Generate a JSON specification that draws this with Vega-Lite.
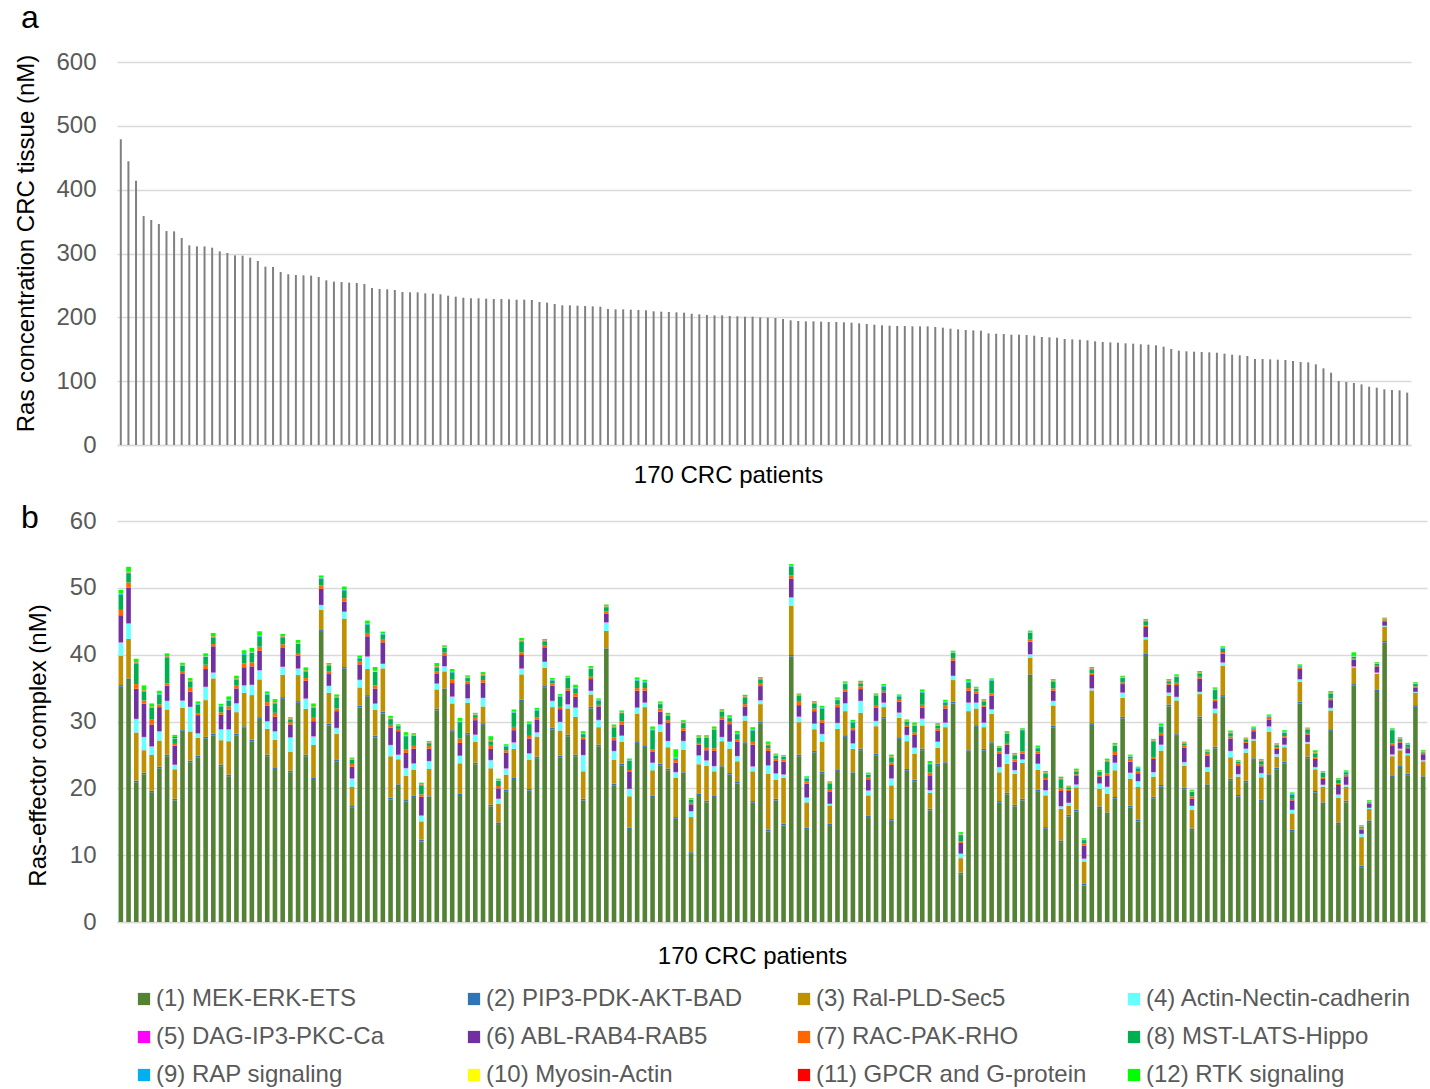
{
"$schema":"https://vega.github.io/schema/vega-lite/v6.json",
"background":"white",
"padding":{"left":13,"top":2,"right":2,"bottom":2},
"config":{"font":"Liberation Sans","view":{"stroke":null},
"axis":{"labelFontSize":24,"labelColor":"#595959","titleFontSize":24,"titleFontWeight":"normal","titleColor":"#000000","gridColor":"#D9D9D9","gridWidth":1.5,"tickSize":0,"ticks":false,"labelFont":"Liberation Sans","titleFont":"Liberation Sans"},
"title":{"fontSize":32,"fontWeight":"normal","color":"#000000","anchor":"start","frame":"group","offset":0,"baseline":"alphabetic","font":"Liberation Sans"}},
"datasets":{
"ras":[{"p":1,"v":478.9},{"p":2,"v":444.4},{"p":3,"v":414.1},{"p":4,"v":358.7},{"p":5,"v":352.5},{"p":6,"v":346.2},{"p":7,"v":335.2},{"p":8,"v":334.7},{"p":9,"v":324.3},{"p":10,"v":312.8},{"p":11,"v":311.2},{"p":12,"v":311.2},{"p":13,"v":309.1},{"p":14,"v":303.4},{"p":15,"v":300.8},{"p":16,"v":297.1},{"p":17,"v":296.6},{"p":18,"v":293.5},{"p":19,"v":288.3},{"p":20,"v":279.4},{"p":21,"v":278.9},{"p":22,"v":271.0},{"p":23,"v":267.4},{"p":24,"v":266.3},{"p":25,"v":265.8},{"p":26,"v":265.3},{"p":27,"v":263.2},{"p":28,"v":258.0},{"p":29,"v":255.9},{"p":30,"v":255.4},{"p":31,"v":254.3},{"p":32,"v":253.8},{"p":33,"v":252.2},{"p":34,"v":246.0},{"p":35,"v":244.4},{"p":36,"v":243.9},{"p":37,"v":242.8},{"p":38,"v":239.7},{"p":39,"v":239.2},{"p":40,"v":239.2},{"p":41,"v":237.6},{"p":42,"v":237.1},{"p":43,"v":236.0},{"p":44,"v":233.9},{"p":45,"v":232.4},{"p":46,"v":230.8},{"p":47,"v":229.8},{"p":48,"v":229.8},{"p":49,"v":229.2},{"p":50,"v":228.7},{"p":51,"v":228.7},{"p":52,"v":228.2},{"p":53,"v":227.7},{"p":54,"v":227.7},{"p":55,"v":227.2},{"p":56,"v":224.0},{"p":57,"v":223.0},{"p":58,"v":220.9},{"p":59,"v":218.8},{"p":60,"v":218.8},{"p":61,"v":218.3},{"p":62,"v":217.8},{"p":63,"v":217.2},{"p":64,"v":216.7},{"p":65,"v":213.1},{"p":66,"v":212.5},{"p":67,"v":212.5},{"p":68,"v":212.0},{"p":69,"v":211.5},{"p":70,"v":211.0},{"p":71,"v":209.4},{"p":72,"v":208.9},{"p":73,"v":208.4},{"p":74,"v":207.8},{"p":75,"v":207.3},{"p":76,"v":205.7},{"p":77,"v":204.7},{"p":78,"v":203.7},{"p":79,"v":203.1},{"p":80,"v":203.1},{"p":81,"v":202.1},{"p":82,"v":201.6},{"p":83,"v":201.0},{"p":84,"v":201.0},{"p":85,"v":200.0},{"p":86,"v":199.5},{"p":87,"v":199.0},{"p":88,"v":197.4},{"p":89,"v":195.3},{"p":90,"v":194.3},{"p":91,"v":193.7},{"p":92,"v":193.7},{"p":93,"v":193.2},{"p":94,"v":192.7},{"p":95,"v":192.7},{"p":96,"v":192.2},{"p":97,"v":191.6},{"p":98,"v":190.6},{"p":99,"v":189.6},{"p":100,"v":188.5},{"p":101,"v":187.5},{"p":102,"v":186.9},{"p":103,"v":186.4},{"p":104,"v":186.4},{"p":105,"v":185.9},{"p":106,"v":185.9},{"p":107,"v":185.9},{"p":108,"v":184.9},{"p":109,"v":183.8},{"p":110,"v":182.2},{"p":111,"v":181.2},{"p":112,"v":180.2},{"p":113,"v":179.6},{"p":114,"v":179.1},{"p":115,"v":174.9},{"p":116,"v":174.4},{"p":117,"v":173.9},{"p":118,"v":172.8},{"p":119,"v":172.8},{"p":120,"v":172.3},{"p":121,"v":171.3},{"p":122,"v":169.2},{"p":123,"v":168.7},{"p":124,"v":168.1},{"p":125,"v":166.1},{"p":126,"v":165.5},{"p":127,"v":165.0},{"p":128,"v":164.0},{"p":129,"v":162.4},{"p":130,"v":161.4},{"p":131,"v":160.8},{"p":132,"v":160.3},{"p":133,"v":159.3},{"p":134,"v":158.7},{"p":135,"v":157.7},{"p":136,"v":157.2},{"p":137,"v":156.1},{"p":138,"v":154.0},{"p":139,"v":150.4},{"p":140,"v":147.8},{"p":141,"v":146.7},{"p":142,"v":146.2},{"p":143,"v":145.7},{"p":144,"v":145.2},{"p":145,"v":144.6},{"p":146,"v":143.1},{"p":147,"v":141.5},{"p":148,"v":140.5},{"p":149,"v":139.4},{"p":150,"v":134.7},{"p":151,"v":134.7},{"p":152,"v":134.2},{"p":153,"v":133.7},{"p":154,"v":133.2},{"p":155,"v":131.6},{"p":156,"v":130.0},{"p":157,"v":129.5},{"p":158,"v":126.4},{"p":159,"v":120.1},{"p":160,"v":113.3},{"p":161,"v":100.3},{"p":162,"v":98.7},{"p":163,"v":97.1},{"p":164,"v":95.0},{"p":165,"v":91.4},{"p":166,"v":89.8},{"p":167,"v":87.2},{"p":168,"v":86.2},{"p":169,"v":85.6},{"p":170,"v":82.0}],
"rec":[
{"p":1,"a":35.2,"b":0.25,"c":4.4,"d":1.95,"e":0.05,"f":4.05,"g":0.8,"h":2.3,"i":0.1,"j":0.05,"k":0.05,"l":0.5},
{"p":2,"a":36.2,"b":0.25,"c":5.9,"d":2.3,"e":0.05,"f":5.35,"g":0.75,"h":1.4,"i":0.1,"j":0.05,"k":0.05,"l":0.75},
{"p":3,"a":20.9,"b":0.25,"c":7.2,"d":2.0,"e":0.05,"f":4.5,"g":0.7,"h":3.1,"i":0.1,"j":0.05,"k":0.05,"l":0.5},
{"p":4,"a":22.1,"b":0.25,"c":3.35,"d":1.95,"e":0.05,"f":4.95,"g":0.5,"h":1.35,"i":0.1,"j":0.05,"k":0.05,"l":0.7},
{"p":5,"a":19.4,"b":0.25,"c":5.35,"d":1.25,"e":0.05,"f":3.25,"g":0.8,"h":1.7,"i":0.1,"j":0.05,"k":0.05,"l":0.45},
{"p":6,"a":23.0,"b":0.25,"c":3.9,"d":1.35,"e":0.05,"f":3.6,"g":0.4,"h":1.45,"i":0.1,"j":0.05,"k":0.05,"l":0.4},
{"p":7,"a":24.8,"b":0.25,"c":6.75,"d":1.25,"e":0.05,"f":2.25,"g":0.35,"h":3.9,"i":0.1,"j":0.05,"k":0.05,"l":0.4},
{"p":8,"a":18.2,"b":0.25,"c":4.4,"d":0.65,"e":0.05,"f":2.85,"g":0.25,"h":0.75,"i":0.1,"j":0.05,"k":0.15,"l":0.3},
{"p":9,"a":28.6,"b":0.25,"c":3.2,"d":1.05,"e":0.05,"f":3.95,"g":0.45,"h":0.75,"i":0.1,"j":0.05,"k":0.05,"l":0.3},
{"p":10,"a":23.9,"b":0.25,"c":4.35,"d":3.65,"e":0.05,"f":2.25,"g":0.6,"h":0.9,"i":0.1,"j":0.05,"k":0.05,"l":0.35},
{"p":11,"a":24.65,"b":0.25,"c":2.65,"d":0.65,"e":0.05,"f":2.7,"g":0.3,"h":1.25,"i":0.1,"j":0.05,"k":0.05,"l":0.3},
{"p":12,"a":27.45,"b":0.25,"c":5.5,"d":1.95,"e":0.05,"f":2.65,"g":0.65,"h":1.15,"i":0.1,"j":0.05,"k":0.05,"l":0.35},
{"p":13,"a":27.95,"b":0.25,"c":8.25,"d":0.85,"e":0.05,"f":3.9,"g":0.35,"h":0.95,"i":0.1,"j":0.05,"k":0.05,"l":0.5},
{"p":14,"a":23.3,"b":0.25,"c":3.65,"d":1.6,"e":0.05,"f":2.15,"g":0.35,"h":0.9,"i":0.1,"j":0.05,"k":0.05,"l":0.2},
{"p":15,"a":21.8,"b":0.25,"c":5.0,"d":1.75,"e":0.05,"f":2.9,"g":0.5,"h":0.85,"i":0.1,"j":0.05,"k":0.05,"l":0.45},
{"p":16,"a":27.95,"b":0.25,"c":3.2,"d":1.3,"e":0.05,"f":2.2,"g":0.4,"h":0.9,"i":0.1,"j":0.05,"k":0.05,"l":0.4},
{"p":17,"a":29.05,"b":0.25,"c":5.0,"d":1.1,"e":0.05,"f":2.65,"g":0.6,"h":1.3,"i":0.1,"j":0.05,"k":0.05,"l":0.45},
{"p":18,"a":27.05,"b":0.25,"c":6.65,"d":1.5,"e":0.05,"f":2.75,"g":0.6,"h":1.4,"i":0.1,"j":0.05,"k":0.05,"l":0.55},
{"p":19,"a":30.4,"b":0.25,"c":5.65,"d":1.35,"e":0.05,"f":2.9,"g":0.6,"h":1.5,"i":0.1,"j":0.05,"k":0.05,"l":0.6},
{"p":20,"a":24.8,"b":0.25,"c":3.85,"d":1.1,"e":0.05,"f":2.35,"g":0.5,"h":1.1,"i":0.1,"j":0.05,"k":0.05,"l":0.3},
{"p":21,"a":22.9,"b":0.25,"c":4.1,"d":1.25,"e":0.05,"f":2.15,"g":0.6,"h":1.4,"i":0.1,"j":0.05,"k":0.05,"l":0.45},
{"p":22,"a":33.4,"b":0.25,"c":3.35,"d":1.15,"e":0.05,"f":2.8,"g":0.55,"h":1.05,"i":0.1,"j":0.05,"k":0.05,"l":0.3},
{"p":23,"a":22.4,"b":0.25,"c":2.85,"d":2.1,"e":0.05,"f":1.9,"g":0.35,"h":0.4,"i":0.1,"j":0.05,"k":0.05,"l":0.15},
{"p":24,"a":32.8,"b":0.25,"c":3.9,"d":0.95,"e":0.05,"f":1.9,"g":0.4,"h":1.35,"i":0.1,"j":0.05,"k":0.05,"l":0.4},
{"p":25,"a":24.8,"b":0.25,"c":6.85,"d":1.5,"e":0.05,"f":2.65,"g":0.4,"h":0.95,"i":0.1,"j":0.05,"k":0.05,"l":0.45},
{"p":26,"a":21.4,"b":0.25,"c":4.85,"d":1.25,"e":0.05,"f":2.25,"g":0.5,"h":1.5,"i":0.1,"j":0.05,"k":0.05,"l":0.45},
{"p":27,"a":43.55,"b":0.25,"c":2.9,"d":0.7,"e":0.05,"f":2.4,"g":0.5,"h":1.0,"i":0.1,"j":0.05,"k":0.05,"l":0.3},
{"p":28,"a":29.45,"b":0.25,"c":4.6,"d":1.0,"e":0.05,"f":1.75,"g":0.35,"h":0.9,"i":0.1,"j":0.05,"k":0.05,"l":0.2},
{"p":29,"a":24.0,"b":0.25,"c":3.9,"d":0.85,"e":0.05,"f":2.5,"g":0.4,"h":1.6,"i":0.1,"j":0.05,"k":0.05,"l":0.3},
{"p":30,"a":37.9,"b":0.25,"c":7.25,"d":1.0,"e":0.05,"f":1.5,"g":0.5,"h":1.15,"i":0.1,"j":0.05,"k":0.05,"l":0.4},
{"p":31,"a":17.1,"b":0.25,"c":2.85,"d":1.25,"e":0.05,"f":1.75,"g":0.4,"h":0.6,"i":0.1,"j":0.05,"k":0.05,"l":0.15},
{"p":32,"a":32.15,"b":0.25,"c":2.7,"d":1.1,"e":0.05,"f":2.3,"g":0.4,"h":0.5,"i":0.1,"j":0.05,"k":0.05,"l":0.2},
{"p":33,"a":33.7,"b":0.25,"c":3.9,"d":1.85,"e":0.05,"f":3.0,"g":0.5,"h":1.25,"i":0.1,"j":0.05,"k":0.05,"l":0.4},
{"p":34,"a":27.6,"b":0.25,"c":3.9,"d":0.9,"e":0.05,"f":2.25,"g":0.45,"h":2.0,"i":0.1,"j":0.05,"k":0.05,"l":0.55},
{"p":35,"a":31.2,"b":0.25,"c":6.5,"d":0.65,"e":0.05,"f":3.2,"g":0.5,"h":0.65,"i":0.1,"j":0.05,"k":0.05,"l":0.25},
{"p":36,"a":18.35,"b":0.25,"c":6.2,"d":1.65,"e":0.05,"f":2.6,"g":0.4,"h":0.85,"i":0.1,"j":0.05,"k":0.05,"l":0.3},
{"p":37,"a":20.35,"b":0.25,"c":3.75,"d":0.65,"e":0.05,"f":3.5,"g":0.35,"h":0.4,"i":0.1,"j":0.05,"k":0.05,"l":0.1},
{"p":38,"a":18.0,"b":0.25,"c":3.65,"d":1.1,"e":0.05,"f":2.25,"g":0.5,"h":2.0,"i":0.1,"j":0.05,"k":0.05,"l":0.4},
{"p":39,"a":18.7,"b":0.25,"c":3.85,"d":0.9,"e":0.05,"f":2.2,"g":0.4,"h":1.5,"i":0.1,"j":0.05,"k":0.05,"l":0.2},
{"p":40,"a":12.05,"b":0.25,"c":2.75,"d":0.85,"e":0.05,"f":2.8,"g":0.35,"h":1.35,"i":0.1,"j":0.05,"k":0.05,"l":0.2},
{"p":41,"a":18.55,"b":0.25,"c":4.1,"d":1.15,"e":0.05,"f":1.85,"g":0.4,"h":0.4,"i":0.1,"j":0.05,"k":0.05,"l":0.15},
{"p":42,"a":31.7,"b":0.25,"c":2.85,"d":0.85,"e":0.05,"f":1.5,"g":0.25,"h":0.65,"i":0.1,"j":0.05,"k":0.05,"l":0.45},
{"p":43,"a":34.7,"b":0.25,"c":2.55,"d":0.75,"e":0.05,"f":1.6,"g":0.4,"h":0.7,"i":0.1,"j":0.05,"k":0.05,"l":0.2},
{"p":44,"a":28.45,"b":0.25,"c":4.0,"d":1.0,"e":0.05,"f":2.0,"g":0.6,"h":1.0,"i":0.1,"j":0.05,"k":0.05,"l":0.3},
{"p":45,"a":19.0,"b":0.25,"c":4.5,"d":1.1,"e":0.05,"f":1.9,"g":0.65,"h":2.45,"i":0.1,"j":0.05,"k":0.05,"l":0.45},
{"p":46,"a":28.05,"b":0.25,"c":4.5,"d":0.65,"e":0.05,"f":2.1,"g":0.4,"h":0.5,"i":0.1,"j":0.05,"k":0.05,"l":0.2},
{"p":47,"a":23.6,"b":0.25,"c":3.15,"d":1.0,"e":0.05,"f":2.15,"g":0.35,"h":0.4,"i":0.1,"j":0.05,"k":0.05,"l":0.15},
{"p":48,"a":29.5,"b":0.25,"c":2.5,"d":1.25,"e":0.05,"f":2.25,"g":0.4,"h":0.7,"i":0.1,"j":0.05,"k":0.05,"l":0.3},
{"p":49,"a":17.3,"b":0.25,"c":5.45,"d":1.2,"e":0.05,"f":1.65,"g":0.6,"h":0.5,"i":0.1,"j":0.05,"k":0.05,"l":0.6},
{"p":50,"a":14.65,"b":0.25,"c":2.8,"d":0.7,"e":0.05,"f":1.55,"g":0.35,"h":0.75,"i":0.1,"j":0.05,"k":0.05,"l":0.15},
{"p":51,"a":19.55,"b":0.25,"c":2.25,"d":0.9,"e":0.05,"f":2.35,"g":0.35,"h":0.55,"i":0.1,"j":0.05,"k":0.05,"l":0.15},
{"p":52,"a":21.4,"b":0.25,"c":4.25,"d":0.95,"e":0.05,"f":1.8,"g":0.5,"h":2.1,"i":0.1,"j":0.05,"k":0.05,"l":0.3},
{"p":53,"a":33.05,"b":0.25,"c":3.75,"d":0.85,"e":0.05,"f":2.0,"g":0.4,"h":1.6,"i":0.1,"j":0.05,"k":0.05,"l":0.35},
{"p":54,"a":19.65,"b":0.25,"c":4.4,"d":0.9,"e":0.05,"f":2.2,"g":0.4,"h":1.75,"i":0.1,"j":0.05,"k":0.05,"l":0.2},
{"p":55,"a":24.5,"b":0.25,"c":3.0,"d":0.6,"e":0.05,"f":1.9,"g":0.3,"h":1.05,"i":0.1,"j":0.05,"k":0.05,"l":0.2},
{"p":56,"a":35.05,"b":0.25,"c":2.75,"d":0.85,"e":0.05,"f":2.15,"g":0.25,"h":0.65,"i":0.1,"j":0.05,"k":0.05,"l":0.15},
{"p":57,"a":28.8,"b":0.25,"c":3.1,"d":0.9,"e":0.05,"f":2.25,"g":0.35,"h":0.4,"i":0.1,"j":0.05,"k":0.05,"l":0.2},
{"p":58,"a":24.65,"b":0.25,"c":3.75,"d":1.25,"e":0.05,"f":1.9,"g":0.35,"h":1.5,"i":0.1,"j":0.05,"k":0.05,"l":0.2},
{"p":59,"a":27.8,"b":0.25,"c":3.9,"d":0.6,"e":0.05,"f":2.0,"g":0.35,"h":1.55,"i":0.1,"j":0.05,"k":0.05,"l":0.15},
{"p":60,"a":24.8,"b":0.25,"c":5.65,"d":1.35,"e":0.05,"f":1.6,"g":0.45,"h":0.8,"i":0.1,"j":0.05,"k":0.05,"l":0.35},
{"p":61,"a":18.2,"b":0.25,"c":4.1,"d":2.4,"e":0.05,"f":2.35,"g":0.25,"h":0.5,"i":0.1,"j":0.05,"k":0.05,"l":0.25},
{"p":62,"a":31.95,"b":0.25,"c":1.85,"d":0.5,"e":0.05,"f":1.75,"g":0.35,"h":1.15,"i":0.1,"j":0.05,"k":0.05,"l":0.25},
{"p":63,"a":26.3,"b":0.25,"c":2.6,"d":1.05,"e":0.05,"f":2.0,"g":0.25,"h":0.6,"i":0.1,"j":0.05,"k":0.05,"l":0.15},
{"p":64,"a":40.7,"b":0.25,"c":2.6,"d":1.25,"e":0.05,"f":1.25,"g":0.4,"h":0.6,"i":0.1,"j":0.05,"k":0.05,"l":0.2},
{"p":65,"a":20.45,"b":0.25,"c":3.6,"d":1.25,"e":0.05,"f":1.6,"g":0.4,"h":1.5,"i":0.1,"j":0.05,"k":0.05,"l":0.25},
{"p":66,"a":23.45,"b":0.25,"c":3.25,"d":0.9,"e":0.05,"f":1.65,"g":0.45,"h":1.25,"i":0.1,"j":0.05,"k":0.05,"l":0.2},
{"p":67,"a":13.9,"b":0.25,"c":4.65,"d":1.1,"e":0.05,"f":2.5,"g":0.3,"h":1.35,"i":0.1,"j":0.05,"k":0.05,"l":0.15},
{"p":68,"a":26.8,"b":0.25,"c":4.15,"d":0.85,"e":0.05,"f":2.5,"g":0.4,"h":1.1,"i":0.1,"j":0.05,"k":0.05,"l":0.3},
{"p":69,"a":26.2,"b":0.25,"c":5.7,"d":0.65,"e":0.05,"f":1.75,"g":0.4,"h":0.85,"i":0.1,"j":0.05,"k":0.05,"l":0.2},
{"p":70,"a":18.7,"b":0.25,"c":3.75,"d":1.1,"e":0.05,"f":1.6,"g":0.4,"h":2.85,"i":0.1,"j":0.05,"k":0.05,"l":0.35},
{"p":71,"a":23.45,"b":0.25,"c":4.75,"d":1.1,"e":0.05,"f":1.85,"g":0.5,"h":0.65,"i":0.1,"j":0.05,"k":0.05,"l":0.2},
{"p":72,"a":22.7,"b":0.25,"c":3.2,"d":0.9,"e":0.05,"f":2.75,"g":0.35,"h":0.65,"i":0.1,"j":0.05,"k":0.05,"l":0.25},
{"p":73,"a":15.45,"b":0.25,"c":5.85,"d":0.85,"e":0.05,"f":1.4,"g":0.4,"h":0.2,"i":0.1,"j":0.05,"k":0.05,"l":1.2},
{"p":74,"a":22.15,"b":0.25,"c":3.4,"d":1.25,"e":0.05,"f":1.5,"g":0.4,"h":0.75,"i":0.1,"j":0.05,"k":0.05,"l":0.25},
{"p":75,"a":10.2,"b":0.25,"c":5.25,"d":0.85,"e":0.05,"f":1.0,"g":0.25,"h":0.4,"i":0.1,"j":0.05,"k":0.05,"l":0.1},
{"p":76,"a":19.0,"b":0.25,"c":4.35,"d":1.3,"e":0.05,"f":1.6,"g":0.25,"h":0.75,"i":0.1,"j":0.05,"k":0.05,"l":0.2},
{"p":77,"a":17.9,"b":0.25,"c":5.2,"d":0.8,"e":0.05,"f":1.5,"g":0.35,"h":1.5,"i":0.1,"j":0.05,"k":0.05,"l":0.2},
{"p":78,"a":18.7,"b":0.25,"c":3.6,"d":0.75,"e":0.05,"f":2.25,"g":0.4,"h":2.75,"i":0.1,"j":0.05,"k":0.05,"l":0.3},
{"p":79,"a":23.05,"b":0.25,"c":3.75,"d":0.6,"e":0.05,"f":2.55,"g":0.45,"h":0.75,"i":0.1,"j":0.05,"k":0.05,"l":0.2},
{"p":80,"a":22.05,"b":0.25,"c":3.65,"d":1.0,"e":0.05,"f":2.6,"g":0.35,"h":0.55,"i":0.1,"j":0.05,"k":0.05,"l":0.25},
{"p":81,"a":20.7,"b":0.25,"c":3.1,"d":0.75,"e":0.05,"f":2.1,"g":0.4,"h":0.75,"i":0.1,"j":0.05,"k":0.05,"l":0.3},
{"p":82,"a":26.65,"b":0.25,"c":3.25,"d":0.65,"e":0.05,"f":1.4,"g":0.35,"h":1.0,"i":0.1,"j":0.05,"k":0.05,"l":0.2},
{"p":83,"a":17.85,"b":0.25,"c":4.45,"d":0.7,"e":0.05,"f":3.25,"g":0.4,"h":1.7,"i":0.1,"j":0.05,"k":0.05,"l":0.3},
{"p":84,"a":29.75,"b":0.25,"c":2.6,"d":0.55,"e":0.05,"f":2.1,"g":0.35,"h":0.65,"i":0.1,"j":0.05,"k":0.05,"l":0.15},
{"p":85,"a":13.55,"b":0.25,"c":8.4,"d":1.2,"e":0.05,"f":2.15,"g":0.4,"h":0.45,"i":0.1,"j":0.05,"k":0.05,"l":0.35},
{"p":86,"a":18.2,"b":0.25,"c":2.85,"d":0.9,"e":0.05,"f":1.85,"g":0.35,"h":0.4,"i":0.1,"j":0.05,"k":0.05,"l":0.15},
{"p":87,"a":14.45,"b":0.25,"c":6.85,"d":0.5,"e":0.05,"f":1.9,"g":0.35,"h":0.35,"i":0.1,"j":0.05,"k":0.05,"l":0.1},
{"p":88,"a":39.7,"b":0.25,"c":7.35,"d":1.25,"e":0.05,"f":2.8,"g":0.45,"h":1.3,"i":0.1,"j":0.05,"k":0.05,"l":0.2},
{"p":89,"a":24.8,"b":0.25,"c":4.85,"d":0.8,"e":0.05,"f":1.7,"g":0.5,"h":0.9,"i":0.1,"j":0.05,"k":0.05,"l":0.15},
{"p":90,"a":13.9,"b":0.25,"c":3.75,"d":0.7,"e":0.05,"f":2.05,"g":0.35,"h":0.4,"i":0.1,"j":0.05,"k":0.05,"l":0.15},
{"p":91,"a":25.35,"b":0.25,"c":3.25,"d":0.8,"e":0.05,"f":1.85,"g":0.4,"h":0.75,"i":0.1,"j":0.05,"k":0.05,"l":0.15},
{"p":92,"a":22.25,"b":0.25,"c":4.5,"d":1.1,"e":0.05,"f":1.65,"g":0.4,"h":1.75,"i":0.1,"j":0.05,"k":0.05,"l":0.2},
{"p":93,"a":14.5,"b":0.25,"c":2.7,"d":0.2,"e":0.05,"f":1.85,"g":0.35,"h":0.8,"i":0.1,"j":0.05,"k":0.05,"l":0.15},
{"p":94,"a":22.6,"b":0.25,"c":6.05,"d":0.85,"e":0.05,"f":2.35,"g":0.4,"h":0.65,"i":0.1,"j":0.05,"k":0.05,"l":0.2},
{"p":95,"a":27.7,"b":0.25,"c":3.6,"d":1.15,"e":0.05,"f":1.75,"g":0.35,"h":0.75,"i":0.1,"j":0.05,"k":0.05,"l":0.2},
{"p":96,"a":22.15,"b":0.25,"c":3.5,"d":0.8,"e":0.05,"f":1.95,"g":0.3,"h":0.85,"i":0.1,"j":0.05,"k":0.05,"l":0.2},
{"p":97,"a":25.7,"b":0.25,"c":5.35,"d":1.75,"e":0.05,"f":1.75,"g":0.4,"h":0.45,"i":0.1,"j":0.05,"k":0.05,"l":0.2},
{"p":98,"a":15.7,"b":0.25,"c":3.0,"d":0.7,"e":0.05,"f":1.65,"g":0.25,"h":0.4,"i":0.1,"j":0.05,"k":0.05,"l":0.15},
{"p":99,"a":24.95,"b":0.25,"c":4.1,"d":0.75,"e":0.05,"f":2.0,"g":0.25,"h":1.5,"i":0.1,"j":0.05,"k":0.05,"l":0.15},
{"p":100,"a":30.45,"b":0.25,"c":1.45,"d":0.65,"e":0.05,"f":1.5,"g":0.25,"h":0.6,"i":0.1,"j":0.05,"k":0.05,"l":0.2},
{"p":101,"a":15.15,"b":0.25,"c":5.05,"d":1.0,"e":0.05,"f":2.0,"g":0.35,"h":0.75,"i":0.1,"j":0.05,"k":0.05,"l":0.25},
{"p":102,"a":27.4,"b":0.25,"c":2.9,"d":0.75,"e":0.05,"f":1.6,"g":0.3,"h":0.5,"i":0.1,"j":0.05,"k":0.05,"l":0.1},
{"p":103,"a":22.65,"b":0.25,"c":4.15,"d":0.9,"e":0.05,"f":1.2,"g":0.3,"h":0.45,"i":0.1,"j":0.05,"k":0.05,"l":0.15},
{"p":104,"a":21.05,"b":0.25,"c":3.9,"d":0.85,"e":0.05,"f":1.9,"g":0.35,"h":1.0,"i":0.1,"j":0.05,"k":0.05,"l":0.3},
{"p":105,"a":25.7,"b":0.25,"c":3.45,"d":1.0,"e":0.05,"f":1.65,"g":0.4,"h":1.85,"i":0.1,"j":0.05,"k":0.05,"l":0.25},
{"p":106,"a":16.7,"b":0.25,"c":2.35,"d":0.4,"e":0.05,"f":2.2,"g":0.4,"h":1.25,"i":0.1,"j":0.05,"k":0.05,"l":0.3},
{"p":107,"a":23.45,"b":0.25,"c":2.35,"d":0.9,"e":0.05,"f":1.6,"g":0.35,"h":0.4,"i":0.1,"j":0.05,"k":0.05,"l":0.2},
{"p":108,"a":23.65,"b":0.25,"c":5.25,"d":0.65,"e":0.05,"f":2.1,"g":0.5,"h":0.4,"i":0.1,"j":0.05,"k":0.05,"l":0.2},
{"p":109,"a":32.7,"b":0.25,"c":3.25,"d":0.6,"e":0.05,"f":2.25,"g":0.35,"h":0.8,"i":0.1,"j":0.05,"k":0.05,"l":0.15},
{"p":110,"a":7.15,"b":0.25,"c":2.15,"d":0.65,"e":0.05,"f":1.6,"g":0.25,"h":0.9,"i":0.1,"j":0.05,"k":0.05,"l":0.25},
{"p":111,"a":25.45,"b":0.25,"c":5.85,"d":1.25,"e":0.05,"f":1.75,"g":0.4,"h":0.85,"i":0.1,"j":0.05,"k":0.05,"l":0.3},
{"p":112,"a":29.2,"b":0.25,"c":2.5,"d":0.85,"e":0.05,"f":1.35,"g":0.3,"h":0.35,"i":0.1,"j":0.05,"k":0.05,"l":0.15},
{"p":113,"a":25.65,"b":0.25,"c":3.25,"d":0.65,"e":0.05,"f":2.35,"g":0.25,"h":0.55,"i":0.1,"j":0.05,"k":0.05,"l":0.15},
{"p":114,"a":26.65,"b":0.25,"c":4.25,"d":0.65,"e":0.05,"f":2.0,"g":0.35,"h":1.9,"i":0.1,"j":0.05,"k":0.05,"l":0.15},
{"p":115,"a":17.85,"b":0.25,"c":4.3,"d":0.75,"e":0.05,"f":1.95,"g":0.4,"h":0.5,"i":0.1,"j":0.05,"k":0.05,"l":0.1},
{"p":116,"a":19.1,"b":0.25,"c":4.3,"d":1.45,"e":0.05,"f":1.4,"g":0.25,"h":1.35,"i":0.1,"j":0.05,"k":0.05,"l":0.2},
{"p":117,"a":17.3,"b":0.25,"c":4.6,"d":0.55,"e":0.05,"f":1.25,"g":0.35,"h":0.6,"i":0.1,"j":0.05,"k":0.05,"l":0.15},
{"p":118,"a":18.2,"b":0.25,"c":5.35,"d":0.5,"e":0.05,"f":0.85,"g":0.3,"h":3.2,"i":0.1,"j":0.05,"k":0.05,"l":0.1},
{"p":119,"a":36.8,"b":0.25,"c":2.5,"d":0.5,"e":0.05,"f":1.85,"g":0.3,"h":1.0,"i":0.1,"j":0.05,"k":0.05,"l":0.15},
{"p":120,"a":19.55,"b":0.25,"c":3.0,"d":0.85,"e":0.05,"f":1.5,"g":0.3,"h":0.5,"i":0.1,"j":0.05,"k":0.05,"l":0.2},
{"p":121,"a":13.95,"b":0.25,"c":4.75,"d":0.75,"e":0.05,"f":1.5,"g":0.3,"h":0.65,"i":0.1,"j":0.05,"k":0.05,"l":0.2},
{"p":122,"a":29.15,"b":0.25,"c":3.0,"d":0.65,"e":0.05,"f":1.5,"g":0.35,"h":1.0,"i":0.1,"j":0.05,"k":0.05,"l":0.2},
{"p":123,"a":11.95,"b":0.25,"c":4.75,"d":0.35,"e":0.05,"f":2.25,"g":0.4,"h":1.35,"i":0.1,"j":0.05,"k":0.05,"l":0.2},
{"p":124,"a":15.8,"b":0.25,"c":1.35,"d":0.4,"e":0.05,"f":1.75,"g":0.25,"h":0.25,"i":0.1,"j":0.05,"k":0.05,"l":0.1},
{"p":125,"a":16.55,"b":0.25,"c":3.35,"d":0.4,"e":0.05,"f":1.25,"g":0.25,"h":0.4,"i":0.1,"j":0.05,"k":0.05,"l":0.25},
{"p":126,"a":5.45,"b":0.25,"c":3.35,"d":0.4,"e":0.05,"f":1.95,"g":0.3,"h":0.5,"i":0.1,"j":0.05,"k":0.05,"l":0.1},
{"p":127,"a":29.5,"b":0.25,"c":4.9,"d":0.3,"e":0.05,"f":1.95,"g":0.25,"h":0.6,"i":0.1,"j":0.05,"k":0.05,"l":0.15},
{"p":128,"a":17.05,"b":0.25,"c":2.65,"d":0.75,"e":0.05,"f":1.0,"g":0.25,"h":0.45,"i":0.1,"j":0.05,"k":0.05,"l":0.1},
{"p":129,"a":16.15,"b":0.25,"c":2.75,"d":1.05,"e":0.05,"f":1.6,"g":0.4,"h":1.75,"i":0.1,"j":0.05,"k":0.05,"l":0.25},
{"p":130,"a":18.45,"b":0.25,"c":4.0,"d":1.1,"e":0.05,"f":1.15,"g":0.45,"h":0.9,"i":0.1,"j":0.05,"k":0.05,"l":0.25},
{"p":131,"a":30.45,"b":0.25,"c":2.85,"d":0.75,"e":0.05,"f":1.25,"g":0.25,"h":0.65,"i":0.1,"j":0.05,"k":0.05,"l":0.15},
{"p":132,"a":17.15,"b":0.25,"c":4.05,"d":0.85,"e":0.05,"f":1.65,"g":0.45,"h":0.25,"i":0.1,"j":0.05,"k":0.05,"l":0.15},
{"p":133,"a":15.05,"b":0.25,"c":4.9,"d":0.85,"e":0.05,"f":1.15,"g":0.25,"h":0.45,"i":0.1,"j":0.05,"k":0.05,"l":0.1},
{"p":134,"a":39.95,"b":0.25,"c":2.1,"d":0.3,"e":0.05,"f":1.5,"g":0.25,"h":0.6,"i":0.1,"j":0.05,"k":0.05,"l":0.15},
{"p":135,"a":18.5,"b":0.25,"c":3.0,"d":0.65,"e":0.05,"f":1.95,"g":0.3,"h":2.35,"i":0.1,"j":0.05,"k":0.05,"l":0.15},
{"p":136,"a":20.25,"b":0.25,"c":5.15,"d":0.85,"e":0.05,"f":1.4,"g":0.35,"h":0.9,"i":0.1,"j":0.05,"k":0.05,"l":0.3},
{"p":137,"a":32.3,"b":0.25,"c":1.3,"d":0.45,"e":0.05,"f":1.15,"g":0.25,"h":0.25,"i":0.1,"j":0.05,"k":0.05,"l":0.15},
{"p":138,"a":27.85,"b":0.25,"c":5.05,"d":0.5,"e":0.05,"f":1.75,"g":0.35,"h":0.85,"i":0.1,"j":0.05,"k":0.05,"l":0.2},
{"p":139,"a":19.85,"b":0.25,"c":3.3,"d":0.5,"e":0.05,"f":2.1,"g":0.4,"h":0.25,"i":0.1,"j":0.05,"k":0.05,"l":0.1},
{"p":140,"a":13.75,"b":0.25,"c":2.75,"d":0.6,"e":0.05,"f":1.05,"g":0.35,"h":0.65,"i":0.1,"j":0.05,"k":0.05,"l":0.15},
{"p":141,"a":30.5,"b":0.25,"c":3.35,"d":0.3,"e":0.05,"f":1.95,"g":0.3,"h":0.45,"i":0.1,"j":0.05,"k":0.05,"l":0.2},
{"p":142,"a":20.35,"b":0.25,"c":1.9,"d":0.65,"e":0.05,"f":1.7,"g":0.4,"h":0.15,"i":0.1,"j":0.05,"k":0.05,"l":0.15},
{"p":143,"a":26.0,"b":0.25,"c":5.0,"d":0.65,"e":0.05,"f":1.1,"g":0.25,"h":1.4,"i":0.1,"j":0.05,"k":0.05,"l":0.2},
{"p":144,"a":33.7,"b":0.25,"c":4.35,"d":0.5,"e":0.05,"f":1.3,"g":0.25,"h":0.5,"i":0.1,"j":0.05,"k":0.05,"l":0.15},
{"p":145,"a":21.2,"b":0.25,"c":3.2,"d":0.9,"e":0.05,"f":1.85,"g":0.3,"h":0.5,"i":0.1,"j":0.05,"k":0.05,"l":0.2},
{"p":146,"a":18.75,"b":0.25,"c":2.75,"d":0.35,"e":0.05,"f":1.3,"g":0.25,"h":0.25,"i":0.1,"j":0.05,"k":0.05,"l":0.1},
{"p":147,"a":20.9,"b":0.25,"c":4.2,"d":0.55,"e":0.05,"f":0.85,"g":0.15,"h":0.35,"i":0.1,"j":0.05,"k":0.05,"l":0.1},
{"p":148,"a":24.25,"b":0.25,"c":2.65,"d":0.2,"e":0.05,"f":1.15,"g":0.25,"h":0.15,"i":0.1,"j":0.05,"k":0.05,"l":0.1},
{"p":149,"a":18.1,"b":0.25,"c":3.3,"d":0.6,"e":0.05,"f":1.0,"g":0.25,"h":0.5,"i":0.1,"j":0.05,"k":0.05,"l":0.15},
{"p":150,"a":21.85,"b":0.25,"c":6.4,"d":0.75,"e":0.05,"f":1.0,"g":0.25,"h":0.15,"i":0.1,"j":0.05,"k":0.05,"l":0.15},
{"p":151,"a":22.85,"b":0.25,"c":1.65,"d":0.35,"e":0.05,"f":0.75,"g":0.2,"h":0.35,"i":0.1,"j":0.05,"k":0.05,"l":0.1},
{"p":152,"a":23.75,"b":0.25,"c":2.15,"d":0.35,"e":0.05,"f":1.0,"g":0.25,"h":0.5,"i":0.1,"j":0.05,"k":0.05,"l":0.2},
{"p":153,"a":13.6,"b":0.25,"c":2.4,"d":0.5,"e":0.05,"f":1.4,"g":0.25,"h":0.6,"i":0.1,"j":0.05,"k":0.05,"l":0.15},
{"p":154,"a":32.7,"b":0.25,"c":3.0,"d":0.35,"e":0.05,"f":1.5,"g":0.25,"h":0.15,"i":0.1,"j":0.05,"k":0.05,"l":0.1},
{"p":155,"a":24.5,"b":0.25,"c":1.9,"d":0.25,"e":0.05,"f":1.1,"g":0.25,"h":0.5,"i":0.1,"j":0.05,"k":0.05,"l":0.1},
{"p":156,"a":19.35,"b":0.25,"c":3.25,"d":0.3,"e":0.05,"f":1.2,"g":0.2,"h":0.6,"i":0.1,"j":0.05,"k":0.05,"l":0.3},
{"p":157,"a":17.65,"b":0.25,"c":2.35,"d":0.25,"e":0.05,"f":0.85,"g":0.2,"h":0.7,"i":0.1,"j":0.05,"k":0.05,"l":0.1},
{"p":158,"a":28.6,"b":0.25,"c":2.8,"d":0.35,"e":0.05,"f":1.15,"g":0.25,"h":0.7,"i":0.1,"j":0.05,"k":0.05,"l":0.2},
{"p":159,"a":14.65,"b":0.25,"c":3.65,"d":0.5,"e":0.05,"f":1.4,"g":0.25,"h":0.5,"i":0.1,"j":0.05,"k":0.05,"l":0.1},
{"p":160,"a":17.9,"b":0.25,"c":2.1,"d":0.25,"e":0.05,"f":1.25,"g":0.25,"h":0.35,"i":0.1,"j":0.05,"k":0.05,"l":0.1},
{"p":161,"a":35.35,"b":0.25,"c":2.5,"d":0.1,"e":0.05,"f":1.0,"g":0.15,"h":0.25,"i":0.1,"j":0.05,"k":0.05,"l":0.5},
{"p":162,"a":8.2,"b":0.25,"c":4.25,"d":0.45,"e":0.05,"f":0.65,"g":0.15,"h":0.2,"i":0.1,"j":0.05,"k":0.05,"l":0.1},
{"p":163,"a":14.95,"b":0.25,"c":1.7,"d":0.15,"e":0.05,"f":0.6,"g":0.15,"h":0.1,"i":0.1,"j":0.05,"k":0.05,"l":0.1},
{"p":164,"a":34.55,"b":0.25,"c":2.35,"d":0.15,"e":0.05,"f":0.9,"g":0.2,"h":0.15,"i":0.1,"j":0.05,"k":0.05,"l":0.1},
{"p":165,"a":41.8,"b":0.25,"c":2.15,"d":0.1,"e":0.05,"f":0.65,"g":0.15,"h":0.1,"i":0.1,"j":0.05,"k":0.05,"l":0.1},
{"p":166,"a":21.7,"b":0.25,"c":2.85,"d":0.25,"e":0.05,"f":1.35,"g":0.25,"h":2.0,"i":0.1,"j":0.05,"k":0.05,"l":0.1},
{"p":167,"a":23.2,"b":0.25,"c":2.25,"d":0.2,"e":0.05,"f":0.9,"g":0.25,"h":0.25,"i":0.1,"j":0.05,"k":0.05,"l":0.1},
{"p":168,"a":21.95,"b":0.25,"c":2.75,"d":0.25,"e":0.05,"f":0.75,"g":0.2,"h":0.3,"i":0.1,"j":0.05,"k":0.05,"l":0.1},
{"p":169,"a":32.2,"b":0.25,"c":1.85,"d":0.1,"e":0.05,"f":0.65,"g":0.15,"h":0.35,"i":0.1,"j":0.05,"k":0.05,"l":0.1},
{"p":170,"a":21.55,"b":0.25,"c":2.25,"d":0.15,"e":0.05,"f":0.85,"g":0.25,"h":0.1,"i":0.1,"j":0.05,"k":0.05,"l":0.1}
],
"names":[{"key":"a","n":"(1) MEK-ERK-ETS","o":1},{"key":"b","n":"(2) PIP3-PDK-AKT-BAD","o":2},{"key":"c","n":"(3) Ral-PLD-Sec5","o":3},{"key":"d","n":"(4) Actin-Nectin-cadherin","o":4},{"key":"e","n":"(5) DAG-IP3-PKC-Ca","o":5},{"key":"f","n":"(6) ABL-RAB4-RAB5","o":6},{"key":"g","n":"(7) RAC-PAK-RHO","o":7},{"key":"h","n":"(8) MST-LATS-Hippo","o":8},{"key":"i","n":"(9) RAP signaling","o":9},{"key":"j","n":"(10) Myosin-Actin","o":10},{"key":"k","n":"(11) GPCR and G-protein","o":11},{"key":"l","n":"(12) RTK signaling","o":12}]
},
"spacing":76,
"bounds":"flush",
"resolve":{"scale":{"color":"independent"},"legend":{"color":"independent"}},
"vconcat":[
{
"width":1294,"height":383,
"data":{"name":"ras"},
"title":{"text":"a","dx":-96,"dy":-11},
"mark":{"type":"bar","color":"#808080","size":2},
"encoding":{
"x":{"field":"p","type":"ordinal","sort":null,"scale":{"paddingInner":0,"paddingOuter":0},"axis":{"title":"170 CRC patients","labels":false,"ticks":false,"domainColor":"#D9D9D9","domainWidth":1.5,"titleX":611,"titleY":30,"titleBaseline":"middle"}},
"y":{"field":"v","type":"quantitative","scale":{"domain":[0,600],"nice":false},"axis":{"values":[0,100,200,300,400,500,600],"title":"Ras concentration CRC tissue (nM)","domain":false,"labelPadding":21,"titleX":-91,"titleY":181,"titleBaseline":"middle"}}
}
},
{
"width":1310,"height":401,
"data":{"name":"rec"},
"title":{"text":"b","dx":-96,"dy":30},
"transform":[
{"fold":["a","b","c","d","e","f","g","h","i","j","k","l"],"as":["key","val"]},
{"lookup":"key","from":{"data":{"name":"names"},"key":"key","fields":["n","o"]}}
],
"mark":{"type":"bar","size":4.6},
"encoding":{
"x":{"field":"p","type":"ordinal","sort":null,"scale":{"paddingInner":0,"paddingOuter":0},"axis":{"title":"170 CRC patients","labels":false,"ticks":false,"domainColor":"#D9D9D9","domainWidth":1.5,"titleX":635,"titleY":34,"titleBaseline":"middle"}},
"y":{"field":"val","type":"quantitative","stack":"zero","scale":{"domain":[0,60],"nice":false},"axis":{"values":[0,10,20,30,40,50,60],"title":"Ras-effector complex (nM)","domain":false,"labelPadding":21,"titleX":-79,"titleY":224,"titleBaseline":"middle"}},
"order":{"field":"o","type":"quantitative"},
"color":{"field":"n","type":"nominal","scale":{"domain":["(1) MEK-ERK-ETS","(2) PIP3-PDK-AKT-BAD","(3) Ral-PLD-Sec5","(4) Actin-Nectin-cadherin","(5) DAG-IP3-PKC-Ca","(6) ABL-RAB4-RAB5","(7) RAC-PAK-RHO","(8) MST-LATS-Hippo","(9) RAP signaling","(10) Myosin-Actin","(11) GPCR and G-protein","(12) RTK signaling"],"range":["#548235","#2E75B6","#BF9000","#66FFFF","#FF00FF","#7030A0","#FF6600","#00B050","#00B0F0","#FFFF00","#FF0000","#00FF00"]},
"legend":{"title":null,"orient":"none","legendX":15,"legendY":466,"direction":"horizontal","columns":4,"symbolType":"square","symbolSize":150,"symbolStrokeWidth":0,"labelFontSize":24,"labelColor":"#595959","labelFont":"Liberation Sans","labelOffset":0,"columnPadding":35,"rowPadding":14,"gridAlign":"all","labelLimit":400,"padding":0}}
}
}
]
}
